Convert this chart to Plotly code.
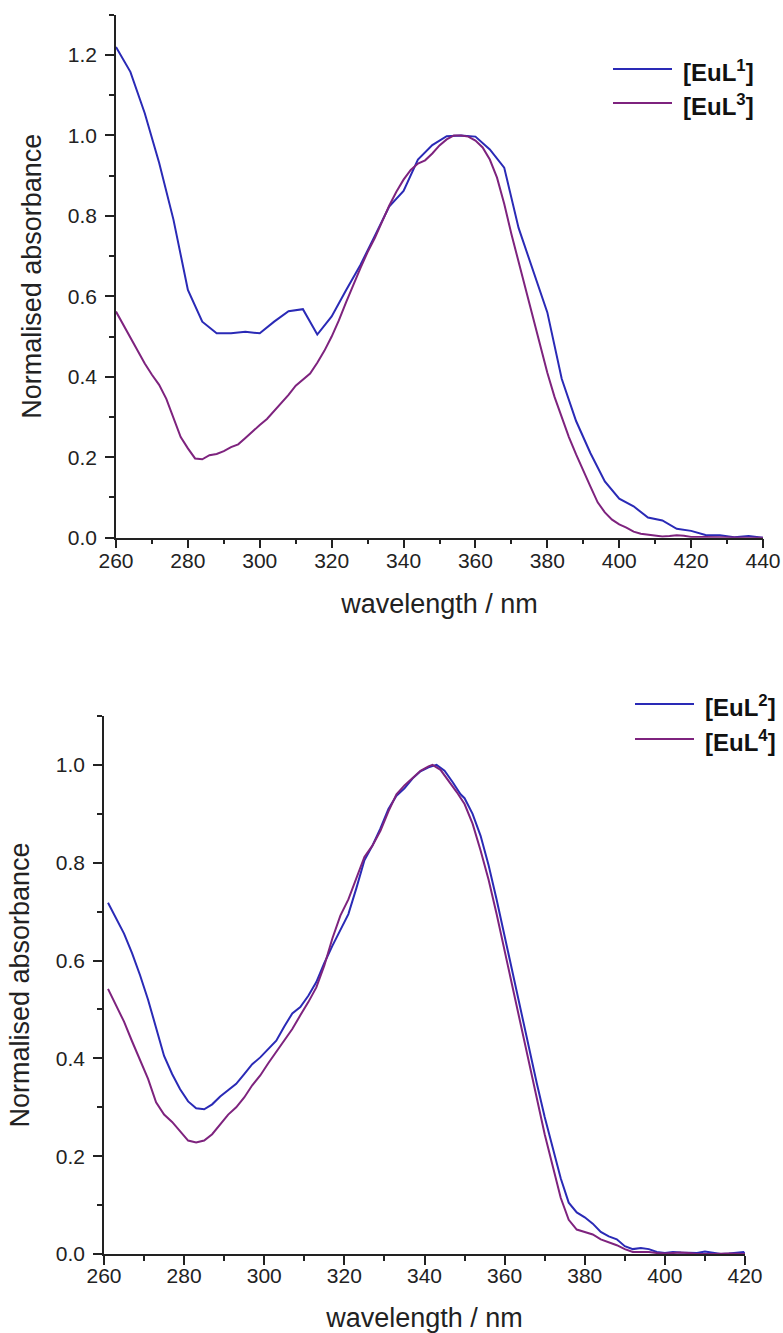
import plotly.graph_objects as go

# ---- Upper panel: [EuL1] and [EuL3] ----
wl_eul1 = [260, 264, 268, 272, 276, 280, 284, 288, 292, 296, 300, 304, 308, 312,
           316, 320, 324, 328, 332, 336, 340, 344, 348, 352, 356, 360, 364, 368,
           372, 376, 380, 384, 388, 392, 396, 400, 404, 408, 412, 416, 420, 424,
           428, 432, 436, 440]
abs_eul1 = [1.220, 1.158, 1.055, 0.932, 0.790, 0.616, 0.537, 0.508, 0.508, 0.512,
            0.508, 0.537, 0.563, 0.568, 0.505, 0.550, 0.615, 0.678, 0.750, 0.823,
            0.862, 0.940, 0.976, 0.998, 1.000, 0.997, 0.965, 0.920, 0.770, 0.665,
            0.560, 0.395, 0.290, 0.210, 0.140, 0.097, 0.078, 0.050, 0.043, 0.022,
            0.017, 0.007, 0.006, 0.001, 0.004, 0.000]

wl_eul3 = [260, 262, 264, 266, 268, 270, 272, 274, 276, 278, 280, 282, 284, 286,
           288, 290, 292, 294, 296, 298, 300, 302, 304, 306, 308, 310, 312, 314,
           316, 318, 320, 322, 324, 326, 328, 330, 332, 334, 336, 338, 340, 342,
           344, 346, 348, 350, 352, 354, 356, 358, 360, 362, 364, 366, 368, 370,
           372, 374, 376, 378, 380, 382, 384, 386, 388, 390, 392, 394, 396, 398,
           400, 402, 404, 406, 408, 410, 412, 414, 416, 418, 420, 424, 428, 432,
           436, 440]
abs_eul3 = [0.562, 0.530, 0.500, 0.465, 0.433, 0.405, 0.380, 0.345, 0.295, 0.250,
            0.222, 0.197, 0.195, 0.205, 0.208, 0.215, 0.225, 0.232, 0.248, 0.265,
            0.280, 0.295, 0.315, 0.335, 0.355, 0.378, 0.393, 0.408, 0.435, 0.465,
            0.500, 0.540, 0.585, 0.630, 0.670, 0.710, 0.745, 0.785, 0.825, 0.860,
            0.890, 0.914, 0.930, 0.938, 0.955, 0.975, 0.990, 1.000, 1.000, 0.997,
            0.987, 0.970, 0.940, 0.895, 0.830, 0.755, 0.685, 0.615, 0.545, 0.475,
            0.410, 0.350, 0.300, 0.250, 0.207, 0.165, 0.127, 0.088, 0.063, 0.045,
            0.033, 0.025, 0.015, 0.010, 0.008, 0.005, 0.003, 0.004, 0.006, 0.005,
            0.002, 0.002, 0.001, 0.001, 0.000, 0.000]

# ---- Lower panel: [EuL2] and [EuL4] ----
wl_eul2 = [261, 263, 265, 267, 269, 271, 273, 275, 277, 279, 281, 283, 285, 287,
           289, 291, 293, 295, 297, 299, 301, 303, 305, 307, 309, 311, 313, 315,
           317, 319, 321, 323, 325, 327, 329, 331, 333, 335, 337, 339, 341, 343,
           345, 347, 349, 350, 352, 354, 356, 358, 360, 362, 364, 366, 368, 370,
           372, 374, 376, 378, 380, 382, 384, 386, 388, 390, 392, 394, 396, 398,
           400, 402, 404, 406, 408, 410, 412, 414, 416, 418, 419.6, 420]
abs_eul2 = [0.718, 0.688, 0.655, 0.615, 0.570, 0.520, 0.465, 0.405, 0.368, 0.337,
            0.312, 0.298, 0.296, 0.306, 0.322, 0.336, 0.348, 0.368, 0.388, 0.402,
            0.418, 0.436, 0.465, 0.492, 0.505, 0.528, 0.556, 0.595, 0.630, 0.662,
            0.695, 0.748, 0.805, 0.835, 0.870, 0.910, 0.937, 0.952, 0.972, 0.987,
            0.995, 1.000, 0.988, 0.965, 0.940, 0.932, 0.900, 0.855, 0.795, 0.725,
            0.650, 0.572, 0.495, 0.420, 0.350, 0.280, 0.215, 0.155, 0.105, 0.085,
            0.075, 0.062, 0.045, 0.036, 0.030, 0.016, 0.010, 0.012, 0.010, 0.004,
            0.002, 0.004, 0.003, 0.002, 0.002, 0.005, 0.003, 0.000, 0.001, 0.002,
            0.004, 0.000]

wl_eul4 = [261, 263, 265, 267, 269, 271, 273, 275, 277, 279, 281, 283, 285, 287,
           289, 291, 293, 295, 297, 299, 301, 303, 305, 307, 309, 311, 313, 315,
           317, 319, 321, 323, 325, 327, 329, 331, 333, 335, 337, 339, 341, 342,
           344, 346, 348, 350, 352, 354, 356, 358, 360, 362, 364, 366, 368, 370,
           372, 374, 376, 378, 380, 382, 384, 386, 388, 390, 392, 394, 396, 398,
           400, 402, 404, 406, 408, 412, 416, 420]
abs_eul4 = [0.542, 0.510, 0.475, 0.435, 0.395, 0.358, 0.310, 0.285, 0.270, 0.250,
            0.232, 0.228, 0.232, 0.245, 0.265, 0.285, 0.300, 0.320, 0.345, 0.365,
            0.390, 0.413, 0.437, 0.460, 0.488, 0.515, 0.545, 0.590, 0.645, 0.692,
            0.725, 0.770, 0.812, 0.835, 0.865, 0.905, 0.940, 0.958, 0.972, 0.988,
            0.997, 1.000, 0.990, 0.968, 0.945, 0.920, 0.880, 0.825, 0.765, 0.695,
            0.620, 0.545, 0.465, 0.390, 0.315, 0.245, 0.180, 0.115, 0.070, 0.050,
            0.045, 0.040, 0.030, 0.024, 0.018, 0.010, 0.004, 0.004, 0.004, 0.002,
            0.001, 0.002, 0.003, 0.002, 0.000, 0.000, 0.001, 0.000]

top_series = [("[EuL<sup>1</sup>]", wl_eul1, abs_eul1, "#2a2ab6"),
              ("[EuL<sup>3</sup>]", wl_eul3, abs_eul3, "#7e237e")]
bottom_series = [("[EuL<sup>2</sup>]", wl_eul2, abs_eul2, "#2a2ab6"),
                 ("[EuL<sup>4</sup>]", wl_eul4, abs_eul4, "#7e237e")]

FONT = "Liberation Sans, Arial, sans-serif"
INK = "#222"
W, H = 783, 1333

fig = go.Figure()
for name, x, y, col in top_series:
    fig.add_trace(go.Scatter(x=x, y=y, mode="lines", name=name,
                             line=dict(color=col, width=2), xaxis="x", yaxis="y"))
for name, x, y, col in bottom_series:
    fig.add_trace(go.Scatter(x=x, y=y, mode="lines", name=name,
                             line=dict(color=col, width=2), xaxis="x2", yaxis="y2"))

minor = dict(ticklen=5, ticks="outside", tickcolor=INK, tickwidth=1.5)
axis_common = dict(
    showline=True, linecolor=INK, linewidth=1.5, automargin=False,
    ticks="outside", ticklen=9, tickwidth=1.5, tickcolor=INK,
    showgrid=False, zeroline=False,
    tickfont=dict(family=FONT, size=21, color=INK),
    title_font=dict(family=FONT, size=27, color=INK),
)

fig.update_layout(
    width=W, height=H,
    margin=dict(l=0, r=0, t=0, b=0),
    paper_bgcolor="white", plot_bgcolor="white",
    font=dict(family=FONT, color=INK),
    showlegend=False,
    xaxis=dict(domain=[116 / W, 763 / W], anchor="y", range=[260, 440],
               tick0=260, dtick=20, minor=dict(dtick=10, **minor),
               ticklabelstandoff=-6,
               title=dict(text="wavelength / nm", standoff=23), **axis_common),
    yaxis=dict(domain=[1 - 537.7 / H, 1 - 14.7 / H], anchor="x", range=[0, 1.3],
               tick0=0, dtick=0.2, tickformat=".1f", ticklabelstandoff=4,
               minor=dict(dtick=0.1, **minor),
               title=dict(text="Normalised absorbance", standoff=18), **axis_common),
    xaxis2=dict(domain=[104 / W, 745 / W], anchor="y2", range=[260, 420],
                tick0=260, dtick=20, minor=dict(dtick=10, **minor),
                ticklabelstandoff=-7,
                title=dict(text="wavelength / nm", standoff=23), **axis_common),
    yaxis2=dict(domain=[1 - 1254 / H, 1 - 716 / H], anchor="x2", range=[0, 1.1],
                tick0=0, dtick=0.2, tickformat=".1f", ticklabelstandoff=4,
                minor=dict(dtick=0.1, **minor),
                title=dict(text="Normalised absorbance", standoff=18), **axis_common),
)

# Legend keys: a short line plus a bold label for each series
def add_key(series, x0, x1, rows):
    for (name, _, _, col), yp in zip(series, rows):
        fig.add_shape(type="line", xref="paper", yref="paper",
                      x0=x0 / W, x1=x1 / W, y0=1 - yp / H, y1=1 - yp / H,
                      line=dict(color=col, width=2))
        fig.add_annotation(xref="paper", yref="paper", x=(x1 + 9) / W, y=1 - yp / H,
                           xanchor="left", yanchor="middle", showarrow=False,
                           text=f"<b>{name}</b>", yshift=-2,
                           font=dict(family=FONT, size=24, color="#111"))

add_key(top_series, 613, 672, [69, 103])
add_key(bottom_series, 635, 694, [704, 739])

fig.write_html("out.html")
